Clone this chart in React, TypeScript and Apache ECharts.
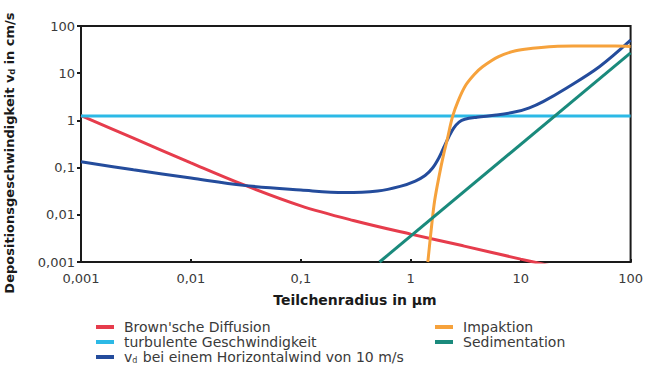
import React, { useEffect, useRef } from "react";
import * as echarts from "echarts";

// x = Teilchenradius (µm), y = Depositionsgeschwindigkeit (cm/s)
const brownX = [0.001, 0.003, 0.01, 0.03, 0.1, 0.3, 1, 3, 10, 20];
const brownY = [1.26, 0.42, 0.126, 0.0434, 0.0155, 0.0076, 0.0039, 0.0022, 0.00115, 0.0008];

const turbX = [0.001, 100];
const turbY = [1.24, 1.24];

const vdX = [0.001, 0.003, 0.01, 0.03, 0.1, 0.25, 0.5, 0.8, 1.1, 1.35, 1.58, 1.8, 2.0, 2.2, 2.45, 2.75, 3.1, 4, 6, 9, 12, 16, 26, 52, 100];
const vdY = [0.133, 0.09, 0.06, 0.042, 0.0335, 0.0295, 0.032, 0.04, 0.052, 0.068, 0.098, 0.16, 0.27, 0.43, 0.68, 0.92, 1.06, 1.17, 1.3, 1.52, 1.85, 2.5, 4.8, 13.7, 50];

const impX = [1.43, 1.55, 1.65, 1.82, 2.0, 2.14, 2.4, 2.7, 3.17, 3.8, 4.5, 6.3, 9, 12.8, 20, 30, 73, 100];
const impY = [0.001, 0.006, 0.02, 0.07, 0.2, 0.38, 1.2, 2.6, 5.6, 9.5, 13.7, 22.5, 30, 33.7, 37, 37.8, 37.8, 37];

const sedX = [0.52, 100];
const sedY = [0.001, 27];

const names = {
  brown: "Brown'sche Diffusion",
  turb: "turbulente Geschwindigkeit",
  vd: "vd bei einem Horizontalwind von 10 m/s",
  imp: "Impaktion",
  sed: "Sedimentation",
};

const colors = {
  brown: "#e63c4c",
  turb: "#2cb9e6",
  vd: "#244c9c",
  imp: "#f6a23c",
  sed: "#1a8a7c",
};

const FONT = "'DejaVu Sans', 'Liberation Sans', Arial, sans-serif";
const TEXT = "#3a3a3a";

function fmt(v: number): string {
  const e = Math.round(Math.log10(v));
  if (e >= 0) return String(Math.round(Math.pow(10, e)));
  return "0," + "0".repeat(-e - 1) + "1";
}

function zip(xs: number[], ys: number[]) {
  return xs.map((x, i) => [x, ys[i]]);
}

export default function App() {
  const ref = useRef<HTMLDivElement>(null);
  useEffect(() => {
    if (!ref.current) return;
    const chart = echarts.init(ref.current, undefined, { renderer: "svg" });
    const line = (key: keyof typeof colors, xs: number[], ys: number[], smooth: boolean | number) => ({
      type: "line",
      name: names[key],
      data: zip(xs, ys),
      showSymbol: false,
      smooth,
      lineStyle: { color: colors[key], width: 3 },
      itemStyle: { color: colors[key] },
      clip: true,
      z: 3,
    });
    const legendText = {
      fontFamily: FONT,
      fontSize: 14,
      color: TEXT,
      padding: [0, 0, 0, 5],
      rich: {
        n: { fontFamily: FONT, fontSize: 14, color: TEXT, lineHeight: 14 },
        s: { fontFamily: FONT, fontSize: 8, color: TEXT, lineHeight: 14, verticalAlign: "bottom", padding: [0, 1, 0, 0] },
      },
    };
    const legendFormatter = (name: string) => {
      if (name === names.vd) return "{n|v}{s|d}{n| bei einem Horizontalwind von 10 m/s}";
      return "{n|" + name + "}";
    };
    const legendBase = {
      orient: "vertical",
      top: 320,
      padding: 0,
      itemWidth: 18,
      itemHeight: 4,
      itemGap: 1,
      icon: "rect",
      textStyle: legendText,
      formatter: legendFormatter,
      selectedMode: false,
    };
    chart.setOption({
      animation: false,
      backgroundColor: "#ffffff",
      grid: {
        left: 81,
        right: 14,
        top: 26,
        bottom: 105,
        show: true,
        borderColor: "#1a1a1a",
        borderWidth: 2,
        backgroundColor: "transparent",
      },
      xAxis: {
        type: "log",
        logBase: 10,
        min: 0.001,
        max: 100,
        axisLine: { show: true, lineStyle: { color: "#1a1a1a", width: 2 } },
        axisTick: { show: true, inside: true, length: 3, lineStyle: { color: "#1a1a1a", width: 2 } },
        minorTick: { show: false },
        splitLine: { show: false },
        axisLabel: {
          formatter: (v: number) => fmt(v),
          fontFamily: FONT,
          fontSize: 13,
          color: TEXT,
          margin: 10,
          showMinLabel: true,
          showMaxLabel: true,
        },
      },
      yAxis: {
        type: "log",
        logBase: 10,
        min: 0.001,
        max: 100,
        axisLine: { show: true, lineStyle: { color: "#1a1a1a", width: 2 } },
        axisTick: { show: true, inside: false, length: 4, lineStyle: { color: "#1a1a1a", width: 2 } },
        splitLine: { show: false },
        axisLabel: {
          formatter: (v: number) => fmt(v),
          fontFamily: FONT,
          fontSize: 13,
          color: TEXT,
          margin: 6,
          showMinLabel: true,
          showMaxLabel: true,
        },
      },
      legend: [
        { ...legendBase, left: 96, data: [names.brown, names.turb, names.vd] },
        { ...legendBase, left: 435, data: [names.imp, names.sed] },
      ],
      graphic: [
        {
          type: "text",
          x: 355,
          y: 300,
          style: {
            text: "Teilchenradius in µm",
            font: "bold 14px " + FONT,
            fill: "#1a1a1a",
            align: "center",
            verticalAlign: "middle",
          },
        },
        {
          type: "text",
          x: 9,
          y: 153,
          rotation: Math.PI / 2,
          style: {
            text: "{b|Depositionsgeschwindigkeit v}{s|d}{b| in cm/s}",
            align: "center",
            verticalAlign: "middle",
            rich: {
              b: { fontFamily: FONT, fontWeight: "bold", fontSize: 13, fill: "#1a1a1a", lineHeight: 15 },
              s: { fontFamily: FONT, fontWeight: "bold", fontSize: 8, fill: "#1a1a1a", lineHeight: 15, verticalAlign: "bottom" },
            },
          },
        },
      ],
      series: [
        line("brown", brownX, brownY, 0.35),
        line("turb", turbX, turbY, false),
        line("vd", vdX, vdY, 0.35),
        line("imp", impX, impY, 0.35),
        line("sed", sedX, sedY, false),
      ],
    });
    return () => chart.dispose();
  }, []);
  return (
    <div
      ref={ref}
      style={{ position: "fixed", left: 0, top: 0, width: 646, height: 367, background: "#fff" }}
    />
  );
}
